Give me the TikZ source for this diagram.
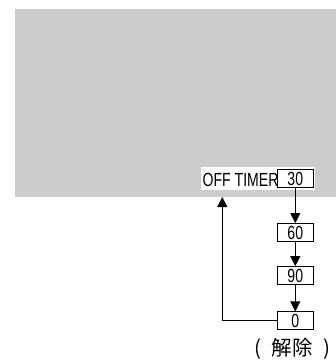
\documentclass[tikz,border=0pt]{standalone}
\usepackage{fontspec}
\setmainfont{Liberation Sans}
\newfontfamily\narrowfont[FakeStretch=0.74]{Liberation Sans}
\newfontfamily\cjk{Noto Sans CJK JP}
\usetikzlibrary{arrows.meta}
\definecolor{panelgray}{RGB}{204,204,204}
\begin{document}
\begin{tikzpicture}[x=1pt,y=1pt,
  valbox/.style={draw=black,line width=0.8pt,fill=white,minimum width=36pt,minimum height=18pt,inner sep=0pt,font=\narrowfont\fontsize{19}{19}\selectfont},
  flow/.style={line width=0.8pt,-{Triangle[width=10pt,length=10pt]}}]
\useasboundingbox (0,0) rectangle (336,360);
\fill[panelgray] (15,163) rectangle (336,351);
\fill[white] (201,170.5) rectangle (315.5,193.5);
\node[anchor=base west,inner sep=0pt,font=\narrowfont\fontsize{19}{19}\selectfont] (lbl) at (202.5,174) {OFF TIMER};
\node[valbox] (b30) at (295.3,181.5) {30};
\node[valbox] (b60) at (295.3,127.5) {60};
\node[valbox] (b90) at (295.3,84.5) {90};
\node[valbox] (b0) at (295.3,39.2) {0};
\coordinate (tipL) at (222.3,163);
\node[anchor=base,inner sep=0pt,font=\cjk\fontsize{20.5}{20.5}\selectfont] (cancel) at (292.4,4.7) {(\hspace{10.5pt}解除\hspace{10.5pt})};
\draw[flow] (b30) -- (b60);
\draw[flow] (b60) -- (b90);
\draw[flow] (b90) -- (b0);
\draw[flow] (b0.west) -| (tipL);
\end{tikzpicture}
\end{document}
